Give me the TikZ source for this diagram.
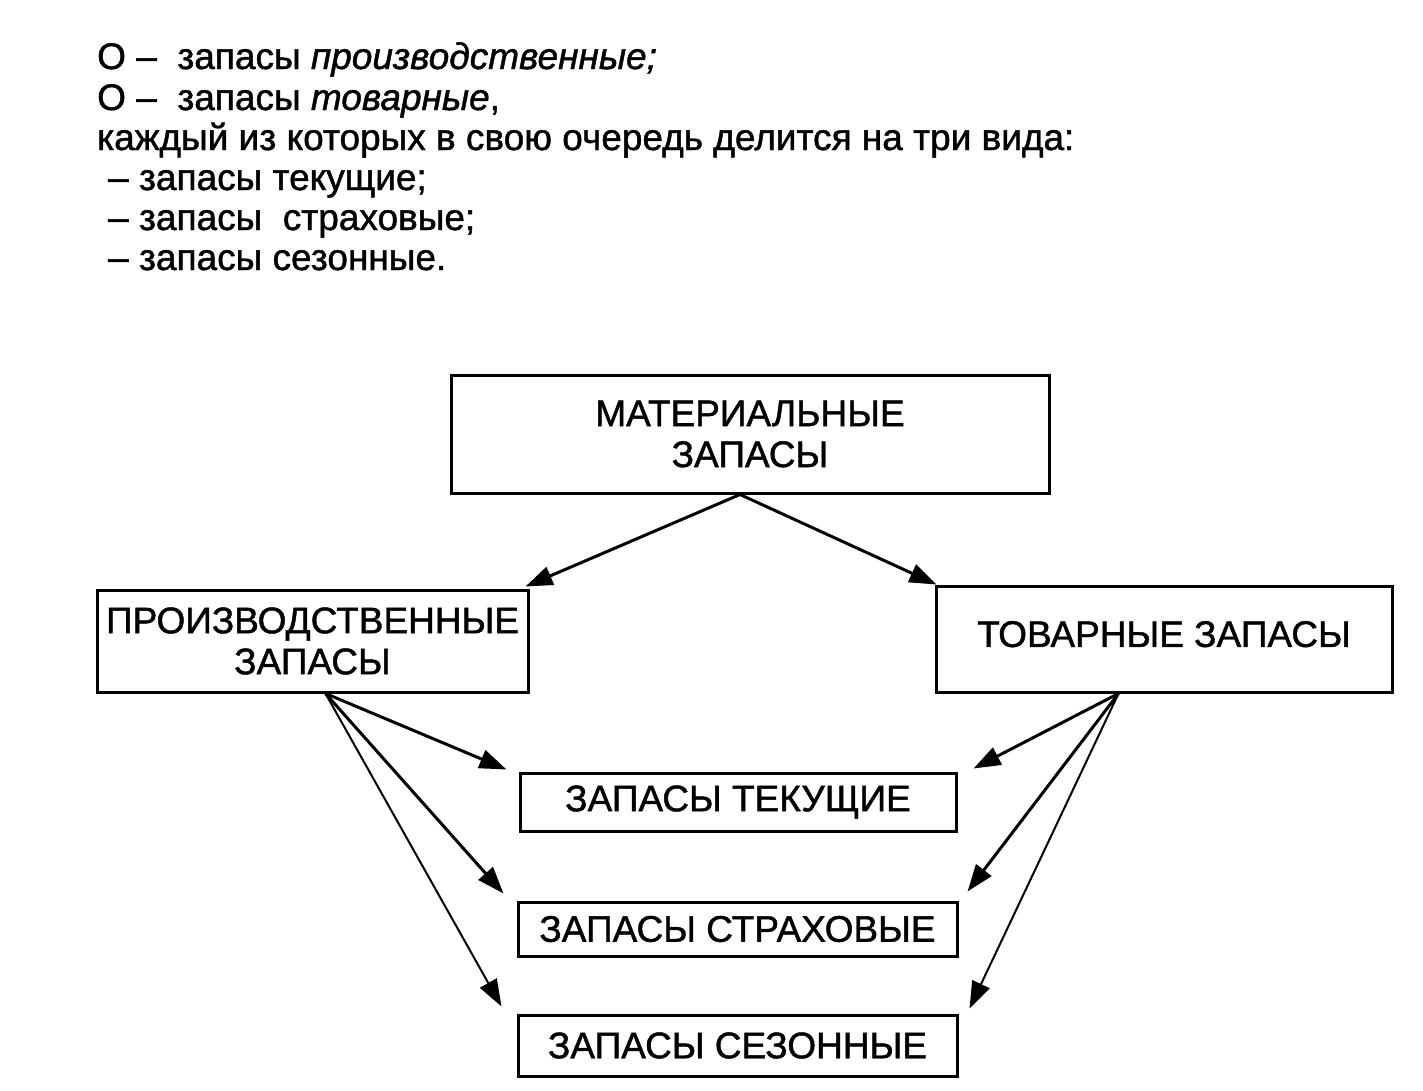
\documentclass[tikz,border=0pt]{standalone}
\usepackage{fontspec}
\setmainfont{Liberation Sans}[FakeBold=1.2]
\usetikzlibrary{arrows.meta,calc}
\begin{document}
\begin{tikzpicture}[x=1pt,y=-1pt,
  box/.style={draw,line width=3pt,inner sep=0pt,align=center,font=\fontsize{37}{41}\selectfont},
  txt/.style={anchor=base west,inner sep=0pt,font=\fontsize{37}{40}\selectfont},
  arr/.style={line width=3pt,-{Triangle[length=27pt,width=19pt]}},
  thinarr/.style={line width=2pt,-{Triangle[length=27pt,width=19pt]}}]
\useasboundingbox (0,0) rectangle (1423,1090);
\fill[white] (0,0) rectangle (1423,1090);
% top text
\node[txt] (l1) at (97,69) {О –\ \ запасы \textit{производственные;}};
\node[txt] (l2) at (97,110) {О –\ \ запасы \textit{товарные},};
\node[txt] (l3) at (97,150) {каждый из которых в свою очередь делится на три вида:};
\node[txt] (l4) at (108,190) {– запасы текущие;};
\node[txt] (l5) at (108,230) {– запасы\ \ страховые;};
\node[txt] (l6) at (108,270) {– запасы сезонные.};
% boxes
\node[box,minimum width=598pt,minimum height=118pt] (mat) at (750,434) {МАТЕРИАЛЬНЫЕ\\ЗАПАСЫ};
\node[box,minimum width=431pt,minimum height=102pt] (prod) at (312.5,641) {ПРОИЗВОДСТВЕННЫЕ\\ЗАПАСЫ};
\node[box,minimum width=456pt,minimum height=106pt,text depth=10pt] (tov) at (1164,639) {ТОВАРНЫЕ ЗАПАСЫ};
\node[box,minimum width=436pt,minimum height=58pt] (tek) at (738,802) {ЗАПАСЫ ТЕКУЩИЕ};
\node[box,minimum width=439pt,minimum height=54pt] (str) at (737.5,929) {ЗАПАСЫ СТРАХОВЫЕ};
\node[box,minimum width=439pt,minimum height=61pt] (sez) at (737.5,1045.5) {ЗАПАСЫ СЕЗОННЫЕ};
% connector start points
\coordinate (ms) at ($(mat.south)+(-10,0)$);
\coordinate (ps) at ($(prod.south west)+(230,0)$);
\coordinate (ts) at ($(tov.south west)+(184,0)$);
% connectors
\draw[arr] (ms) -- ($(prod.north east)+(-4,-2)$);
\draw[arr] (ms) -- ($(tov.north west)+(2,0)$);
\draw[arr] (ps) -- ($(tek.north west)+(-12,-2)$);
\draw[arr] (ps) -- ($(str.north west)+(-13,-7)$);
\draw[thinarr] (ps) -- ($(sez.north west)+(-15,-7)$);
\draw[arr] (ts) -- ($(tek.north east)+(16,-3)$);
\draw[arr] (ts) -- ($(str.north east)+(9,-9)$);
\draw[thinarr] (ts) -- ($(sez.north east)+(11,-5)$);
\end{tikzpicture}
\end{document}
